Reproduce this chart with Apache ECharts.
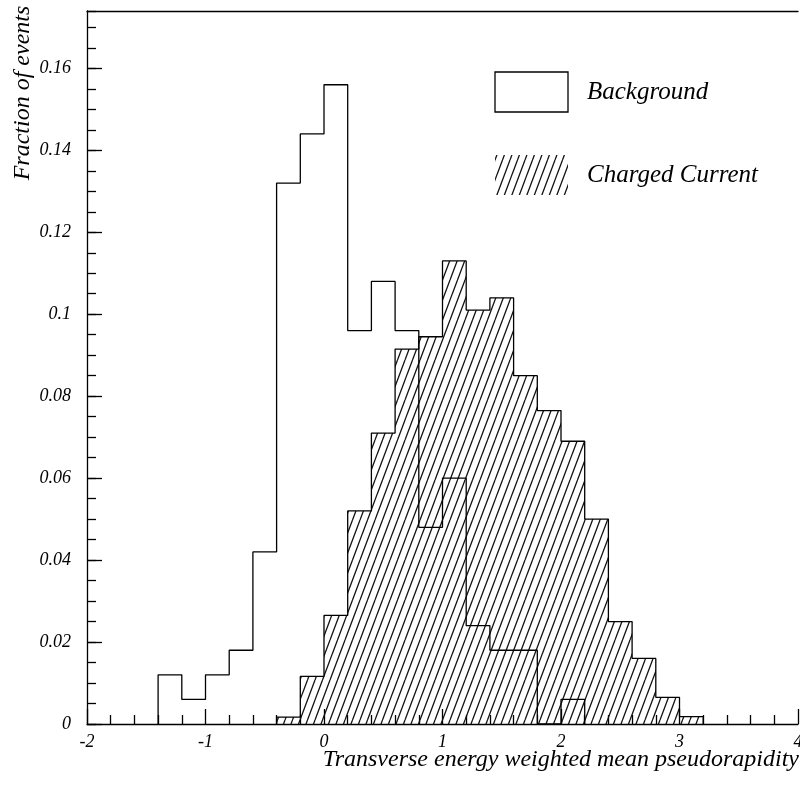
<!DOCTYPE html>
<html>
<head>
<meta charset="utf-8">
<script src="https://cdn.jsdelivr.net/npm/echarts@6/dist/echarts.min.js"></script>
<style>
  html, body { margin: 0; padding: 0; background: #fff; overflow: hidden; }
  #chart { width: 800px; height: 793px; }
</style>
</head>
<body>
<div id="chart"></div>
<script>
// Histogram bins: lower edges, common width
const binStarts = [-2.0, -1.8, -1.6, -1.4, -1.2, -1.0, -0.8, -0.6, -0.4, -0.2,
                   0.0, 0.2, 0.4, 0.6, 0.8, 1.0, 1.2, 1.4, 1.6, 1.8,
                   2.0, 2.2, 2.4, 2.6, 2.8, 3.0, 3.2, 3.4, 3.6, 3.8];
const binWidth = 0.2;

// Fraction of events per bin
const background = [0, 0, 0, 0.012, 0.006, 0.012, 0.018, 0.042, 0.132, 0.144,
                    0.156, 0.096, 0.108, 0.096, 0.048, 0.060, 0.024, 0.018, 0.018, 0,
                    0.006, 0, 0, 0, 0, 0, 0, 0, 0, 0];
const chargedCurrent = [0, 0, 0, 0, 0, 0, 0, 0, 0.0017, 0.0116,
                        0.0265, 0.052, 0.071, 0.0915, 0.0945, 0.113, 0.101, 0.104, 0.085, 0.0765,
                        0.069, 0.050, 0.025, 0.016, 0.0065, 0.0018, 0, 0, 0, 0];

// Axis ranges
const xRange = [-2, 4];
const yRange = [0, 0.174];
const xMajor = 1, xMinorSplit = 5;
const yMajor = 0.02, yMinor = 0.005;

// Texts
const seriesNames = ['Background', 'Charged Current'];
const xTitle = 'Transverse energy weighted mean pseudorapidity';
const yTitle = 'Fraction of events';

const FONT = '"Liberation Serif", "Times New Roman", serif';

// Diagonal hatch tile
function makeHatch() {
  const c = document.createElement('canvas');
  c.width = 15; c.height = 40;
  const g = c.getContext('2d');
  g.strokeStyle = '#111';
  g.lineWidth = 1.25;
  for (const x0 of [-15, -7.5, 0, 7.5, 15]) {
    g.beginPath();
    g.moveTo(x0, 40);
    g.lineTo(x0 + 15, 0);
    g.stroke();
  }
  return c;
}
const hatch = { image: makeHatch(), repeat: 'repeat' };

// Step outline points for a histogram (drawn with step: 'end')
function stepPoints(values) {
  let first = values.findIndex(v => v > 0);
  let last = values.length - 1;
  while (last > 0 && !(values[last] > 0)) last--;
  const pts = [[binStarts[first], 0]];
  for (let i = first; i <= last; i++) pts.push([binStarts[i], values[i]]);
  pts.push([binStarts[last] + binWidth, 0]);
  return pts;
}

const chart = echarts.init(document.getElementById('chart'), null,
  { renderer: 'canvas', width: 800, height: 793 });

const axisLineStyle = { color: '#000', width: 1.3 };

chart.setOption({
  backgroundColor: '#fff',
  animation: false,
  grid: { left: 87, right: 2, top: 11, bottom: 69, containLabel: false, outerBoundsMode: 'none' },
  xAxis: [
    {
      type: 'value', position: 'bottom',
      min: xRange[0], max: xRange[1], interval: xMajor,
      axisLine: { show: true, onZero: false, lineStyle: axisLineStyle },
      axisTick: { show: true, inside: true, length: 15, lineStyle: axisLineStyle },
      minorTick: { show: true, splitNumber: xMinorSplit, length: 9, lineStyle: axisLineStyle },
      splitLine: { show: false },
      axisLabel: {
        margin: 9, color: '#000', fontFamily: FONT, fontStyle: 'italic', fontSize: 18,
        formatter: v => String(v)
      }
    },
    {
      type: 'value', position: 'top',
      min: xRange[0], max: xRange[1], interval: xMajor,
      axisLine: { show: true, onZero: false, lineStyle: axisLineStyle },
      axisTick: { show: false }, axisLabel: { show: false }, splitLine: { show: false }
    }
  ],
  yAxis: [
    {
      type: 'value', position: 'left',
      min: yRange[0], max: yRange[1], interval: yMajor,
      axisLine: { show: true, onZero: false, lineStyle: axisLineStyle },
      axisTick: { show: true, inside: true, length: 15, lineStyle: axisLineStyle },
      splitLine: { show: false },
      axisLabel: {
        margin: 16, showMaxLabel: false, color: '#000', fontFamily: FONT, fontStyle: 'italic', fontSize: 18,
        formatter: v => (v === 0 ? '0' : String(Number(v.toFixed(3))))
      }
    },
    {
      type: 'value', position: 'left',
      min: yRange[0], max: yRange[1], interval: yMinor,
      axisLine: { show: false, onZero: false },
      axisTick: { show: true, inside: true, length: 9, lineStyle: axisLineStyle },
      axisLabel: { show: false }, splitLine: { show: false }
    }
  ],
  series: [
    {
      name: seriesNames[1],
      type: 'line', step: 'end', xAxisIndex: 0, yAxisIndex: 0,
      data: stepPoints(chargedCurrent),
      showSymbol: false, symbol: 'none',
      lineStyle: { color: '#000', width: 1.3 },
      areaStyle: { color: hatch, opacity: 1 },
      z: 2
    },
    {
      name: seriesNames[0],
      type: 'line', step: 'end', xAxisIndex: 0, yAxisIndex: 0,
      data: stepPoints(background),
      showSymbol: false, symbol: 'none',
      lineStyle: { color: '#000', width: 1.3 },
      z: 3
    }
  ],
  graphic: [
    // legend: background box
    { type: 'rect', shape: { x: 495, y: 72, width: 73, height: 40 },
      style: { fill: 'none', stroke: '#000', lineWidth: 1.3 } },
    { type: 'text', x: 587, y: 92,
      style: { text: seriesNames[0], fill: '#000', font: 'italic 25px ' + FONT,
               textAlign: 'left', textVerticalAlign: 'middle' } },
    // legend: hatched swatch
    { type: 'rect', shape: { x: 495, y: 155, width: 73, height: 40 },
      style: { fill: hatch, stroke: 'none' } },
    { type: 'text', x: 587, y: 175,
      style: { text: seriesNames[1], fill: '#000', font: 'italic 25px ' + FONT,
               textAlign: 'left', textVerticalAlign: 'middle' } },
    // axis titles
    { type: 'text', x: 23, y: 93, rotation: Math.PI / 2,
      style: { text: yTitle, fill: '#000', font: 'italic 24px ' + FONT,
               textAlign: 'center', textVerticalAlign: 'middle' } },
    { type: 'text', x: 799, y: 760,
      style: { text: xTitle, fill: '#000', font: 'italic 24px ' + FONT,
               textAlign: 'right', textVerticalAlign: 'middle' } }
  ]
});
</script>
</body>
</html>
